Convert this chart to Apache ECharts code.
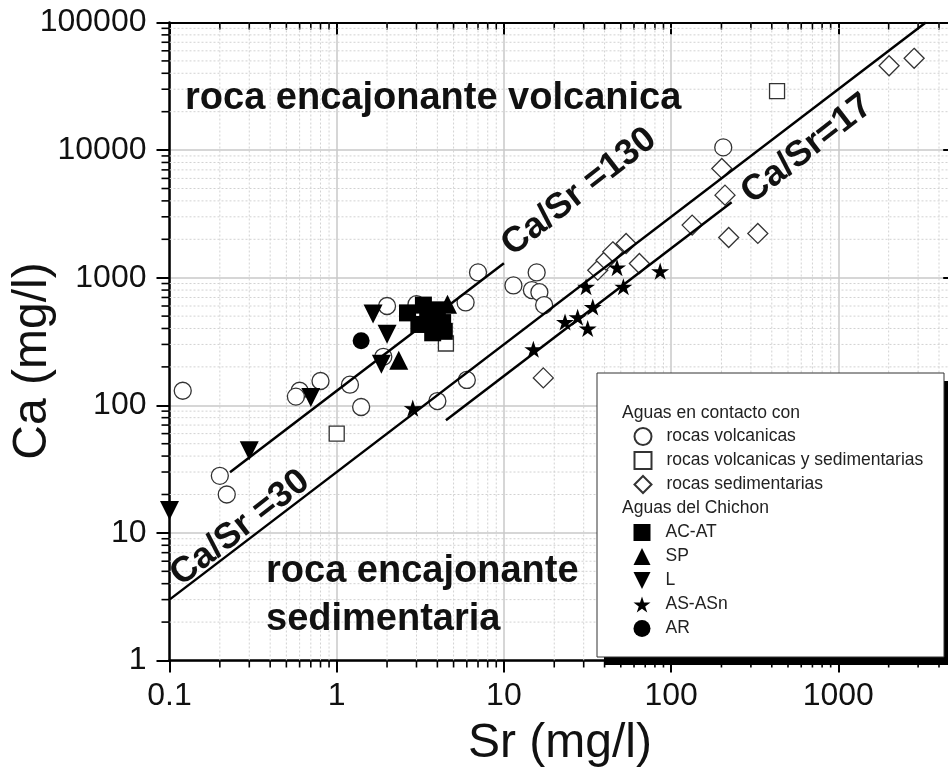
<!DOCTYPE html>
<html>
<head>
<meta charset="utf-8">
<script src="https://cdn.jsdelivr.net/npm/echarts@6/dist/echarts.min.js"></script>
<style>
  html, body { margin: 0; padding: 0; background: #fff; }
  #chart { width: 948px; height: 775px; }
</style>
</head>
<body>
<div id="chart"></div>
<script>
// Axis ranges and tick labels (mg/l)
const srRange = [0.1, 5000];
const caRange = [1, 100000];
const xTickLabels = ['0.1', '1', '10', '100', '1000'];
const yTickLabels = ['1', '10', '100', '1000', '10000', '100000'];

// Samples as [Sr, Ca] in mg/l
const rocasVolcanicas = [
  [0.12, 130], [0.2, 28], [0.22, 20], [0.6, 130], [0.57, 117], [0.8, 155],
  [1.2, 145], [1.4, 97], [1.9, 240], [2.0, 600], [3.0, 620], [4.0, 108],
  [6.0, 158], [5.9, 640], [7.0, 1100], [11.4, 870], [14.7, 800], [15.7, 1100],
  [16.3, 770], [17.4, 610], [205, 10500]
];
const rocasVolcSed = [
  [1.0, 60], [4.5, 305], [430, 29000]
];
const rocasSedimentarias = [
  [17.2, 164], [36.4, 1145], [40.8, 1372], [44.8, 1595], [53.8, 1854], [64.6, 1292],
  [133.6, 2583], [221, 2067], [330, 2222], [201, 7185], [210, 4436],
  [2012, 45800], [2840, 52400]
];
const acAt = [
  [2.65, 530], [3.3, 610], [3.1, 430], [3.75, 370], [4.3, 445], [4.0, 560],
  [3.5, 480], [4.4, 380]
];
const sp = [
  [2.35, 225], [4.6, 620]
];
const lAguas = [
  [0.1, 15], [0.3, 44], [0.7, 115], [1.65, 520], [2.0, 360], [1.85, 210]
];
const asAsn = [
  [2.85, 95], [15, 275], [23.2, 450], [27.6, 490], [31.7, 400], [34, 590],
  [31, 850], [51.8, 850], [47.5, 1200], [86, 1125]
];
const ar = [
  [1.4, 320]
];

// Reference ratio lines: Ca = ratio * Sr over the given Sr span
const ratioValues = [130, 30, 17];
const ratioSrSpans = [[0.23, 10], [0.1, 3333.3], [4.5, 230]];

const FONT = "'Liberation Sans', Arial, Helvetica, sans-serif";
const STAR = 'path://M50 0 L61.17 34.63 L97.55 34.55 L68.07 55.87 L79.39 90.45 L50 69 L20.61 90.45 L31.93 55.87 L2.45 34.55 L38.83 34.63 Z';
const DOWN_TRIANGLE = 'path://M0 0 L20 0 L10 20 Z';

// Minor tick values (2..9 per decade) inside each axis range
function minorValues(range) {
  const out = [];
  const k0 = Math.floor(Math.log10(range[0]));
  const k1 = Math.ceil(Math.log10(range[1]));
  for (let k = k0; k <= k1; k++) {
    for (let m = 2; m <= 9; m++) {
      const v = m * Math.pow(10, k);
      if (v > range[0] * 1.0001 && v < range[1] * 0.9999) out.push(v);
    }
  }
  return out;
}
const minorX = minorValues(srRange);
const minorY = minorValues(caRange);

function labelFor(list) {
  return function (value) {
    const lv = Math.log10(value);
    for (const s of list) {
      if (Math.abs(Math.log10(parseFloat(s)) - lv) < 1e-6) return s;
    }
    return '';
  };
}

const MINOR_GRID = { stroke: '#d2d2d2', lineWidth: 1, lineDash: [2, 2] };
const TICK = { stroke: '#000', lineWidth: 1.6 };

function renderXMinor(params, api) {
  const v = api.value(0);
  const b = api.coord([v, caRange[0]]);
  const t = api.coord([v, caRange[1]]);
  return {
    type: 'group',
    children: [
      { type: 'line', shape: { x1: b[0], y1: b[1], x2: t[0], y2: t[1] }, style: MINOR_GRID },
      { type: 'line', shape: { x1: b[0], y1: b[1], x2: b[0], y2: b[1] + 7 }, style: TICK },
      { type: 'line', shape: { x1: t[0], y1: t[1], x2: t[0], y2: t[1] + 7 }, style: TICK }
    ]
  };
}
function renderYMinor(params, api) {
  const v = api.value(1);
  const l = api.coord([srRange[0], v]);
  const r = api.coord([srRange[1], v]);
  return {
    type: 'group',
    children: [
      { type: 'line', shape: { x1: l[0], y1: l[1], x2: r[0], y2: r[1] }, style: MINOR_GRID },
      { type: 'line', shape: { x1: l[0] - 8, y1: l[1], x2: l[0], y2: l[1] }, style: TICK },
      { type: 'line', shape: { x1: r[0] - 7, y1: r[1], x2: r[0], y2: r[1] }, style: TICK }
    ]
  };
}

function openSeries(name, data, symbol, size) {
  return {
    name, type: 'scatter', data, symbol, symbolSize: size,
    itemStyle: { color: '#fff', borderColor: '#333', borderWidth: 1.3, opacity: 1 },
    emphasis: { disabled: true }, z: 3
  };
}
function filledSeries(name, data, symbol, size, keepAspect) {
  return {
    name, type: 'scatter', data, symbol, symbolSize: size,
    symbolKeepAspect: !!keepAspect,
    itemStyle: { color: '#000', opacity: 1 },
    emphasis: { disabled: true }, z: 4
  };
}

const ratioSeries = ratioValues.map((r, i) => ({
  name: 'Ca/Sr=' + r,
  type: 'line',
  data: ratioSrSpans[i].map(s => [s, r * s]),
  symbol: 'none',
  lineStyle: { color: '#000', width: 2.5 },
  emphasis: { disabled: true },
  z: 6
}));

const legendText = { fontSize: 17.5, color: '#222', fontFamily: FONT, padding: [0, 0, 0, 10] };

const option = {
  animation: false,
  backgroundColor: '#fff',
  grid: {
    left: 169.5, top: 22.5, width: 785.7, height: 638,
    containLabel: false, outerBoundsMode: 'none'
  },
  xAxis: [
    {
      type: 'log', logBase: 10, min: srRange[0], max: srRange[1], position: 'bottom',
      axisLine: { show: true, lineStyle: { color: '#000', width: 2.5 } },
      axisTick: { show: true, inside: false, length: 12, lineStyle: { color: '#000', width: 2 } },
      axisLabel: { show: true, formatter: labelFor(xTickLabels), fontSize: 32, color: '#111', fontFamily: FONT, margin: 20 },
      splitLine: { show: true, lineStyle: { color: '#c8c8c8', width: 1.5 } },
      minorTick: { show: false }, minorSplitLine: { show: false }
    },
    {
      type: 'log', logBase: 10, min: srRange[0], max: srRange[1], position: 'top',
      axisLine: { show: true, lineStyle: { color: '#000', width: 2 } },
      axisTick: { show: true, inside: true, length: 12, lineStyle: { color: '#000', width: 2 } },
      axisLabel: { show: false }, splitLine: { show: false }
    }
  ],
  yAxis: [
    {
      type: 'log', logBase: 10, min: caRange[0], max: caRange[1], position: 'left',
      axisLine: { show: true, lineStyle: { color: '#000', width: 2.5 } },
      axisTick: { show: true, inside: false, length: 13, lineStyle: { color: '#000', width: 2 } },
      axisLabel: { show: true, formatter: labelFor(yTickLabels), fontSize: 32, color: '#111', fontFamily: FONT, margin: 23 },
      splitLine: { show: true, lineStyle: { color: '#c8c8c8', width: 1.5 } }
    },
    {
      type: 'log', logBase: 10, min: caRange[0], max: caRange[1], position: 'right',
      axisLine: { show: true, lineStyle: { color: '#000', width: 2 } },
      axisTick: { show: true, inside: true, length: 12, lineStyle: { color: '#000', width: 2 } },
      axisLabel: { show: false }, splitLine: { show: false }
    }
  ],
  legend: [
    {
      data: ['rocas volcanicas', 'rocas volcanicas y sedimentarias', 'rocas sedimentarias'],
      orient: 'vertical', left: 633.5, top: 427, padding: 0,
      itemWidth: 17, itemHeight: 17, itemGap: 5, selectedMode: false,
      textStyle: legendText, z: 60
    },
    {
      data: ['AC-AT', 'SP', 'L', 'AS-ASn', 'AR'],
      orient: 'vertical', left: 633.5, top: 523.5, padding: 0,
      itemWidth: 17, itemHeight: 17, itemGap: 6, selectedMode: false,
      textStyle: legendText, z: 60
    }
  ],
  graphic: [
    // legend frame with drop shadow
    { type: 'rect', z: 49, shape: { x: 604, y: 381, width: 347, height: 284 }, style: { fill: '#000' } },
    { type: 'rect', z: 50, shape: { x: 597, y: 373, width: 347, height: 284 }, style: { fill: '#fff', stroke: '#333', lineWidth: 1 } },
    { type: 'text', z: 51, x: 622, y: 413, style: { text: 'Aguas en contacto con', fontSize: 17.5, fill: '#222', fontFamily: FONT, align: 'left', verticalAlign: 'middle' } },
    { type: 'text', z: 51, x: 622, y: 508, style: { text: 'Aguas del Chichon', fontSize: 17.5, fill: '#222', fontFamily: FONT, align: 'left', verticalAlign: 'middle' } },
    // region annotations
    { type: 'text', z: 30, x: 185, y: 99, style: { text: 'roca encajonante volcanica', fontSize: 38, fontWeight: 'bold', fill: '#111', fontFamily: FONT, align: 'left', verticalAlign: 'middle' } },
    { type: 'text', z: 30, x: 266, y: 572, style: { text: 'roca encajonante', fontSize: 38, fontWeight: 'bold', fill: '#111', fontFamily: FONT, align: 'left', verticalAlign: 'middle' } },
    { type: 'text', z: 30, x: 266, y: 620, style: { text: 'sedimentaria', fontSize: 38, fontWeight: 'bold', fill: '#111', fontFamily: FONT, align: 'left', verticalAlign: 'middle' } },
    // ratio line labels
    { type: 'text', z: 30, x: 579, y: 192, rotation: 38 * Math.PI / 180, style: { text: 'Ca/Sr =130', fontSize: 36, fontWeight: 'bold', fill: '#111', fontFamily: FONT, align: 'center', verticalAlign: 'middle' } },
    { type: 'text', z: 30, x: 807, y: 149, rotation: 38 * Math.PI / 180, style: { text: 'Ca/Sr=17', fontSize: 36, fontWeight: 'bold', fill: '#111', fontFamily: FONT, align: 'center', verticalAlign: 'middle' } },
    { type: 'text', z: 30, x: 240, y: 528, rotation: 38 * Math.PI / 180, style: { text: 'Ca/Sr =30', fontSize: 36, fontWeight: 'bold', fill: '#111', fontFamily: FONT, align: 'center', verticalAlign: 'middle' } },
    // axis titles
    { type: 'text', z: 30, x: 33, y: 361, rotation: Math.PI / 2, style: { text: 'Ca (mg/l)', fontSize: 48, fill: '#111', fontFamily: FONT, align: 'center', verticalAlign: 'middle' } },
    { type: 'text', z: 30, x: 560, y: 744, style: { text: 'Sr (mg/l)', fontSize: 48, fill: '#111', fontFamily: FONT, align: 'center', verticalAlign: 'middle' } }
  ],
  series: [
    {
      type: 'custom', xAxisIndex: 0, yAxisIndex: 0, z: 1, silent: true,
      data: minorX.map(v => [v, caRange[0]]), renderItem: renderXMinor
    },
    {
      type: 'custom', xAxisIndex: 0, yAxisIndex: 0, z: 1, silent: true,
      data: minorY.map(v => [srRange[0], v]), renderItem: renderYMinor
    },
    openSeries('rocas volcanicas', rocasVolcanicas, 'circle', 17),
    filledSeries('AC-AT', acAt, 'rect', 17),
    openSeries('rocas volcanicas y sedimentarias', rocasVolcSed, 'rect', 15),
    openSeries('rocas sedimentarias', rocasSedimentarias, 'diamond', 20),
    filledSeries('SP', sp, 'triangle', 19),
    filledSeries('L', lAguas, DOWN_TRIANGLE, 19),
    filledSeries('AS-ASn', asAsn, STAR, 18, true),
    filledSeries('AR', ar, 'circle', 17),
    ...ratioSeries
  ]
};

const chart = echarts.init(document.getElementById('chart'), null, { renderer: 'canvas' });
chart.setOption(option);
</script>
</body>
</html>
